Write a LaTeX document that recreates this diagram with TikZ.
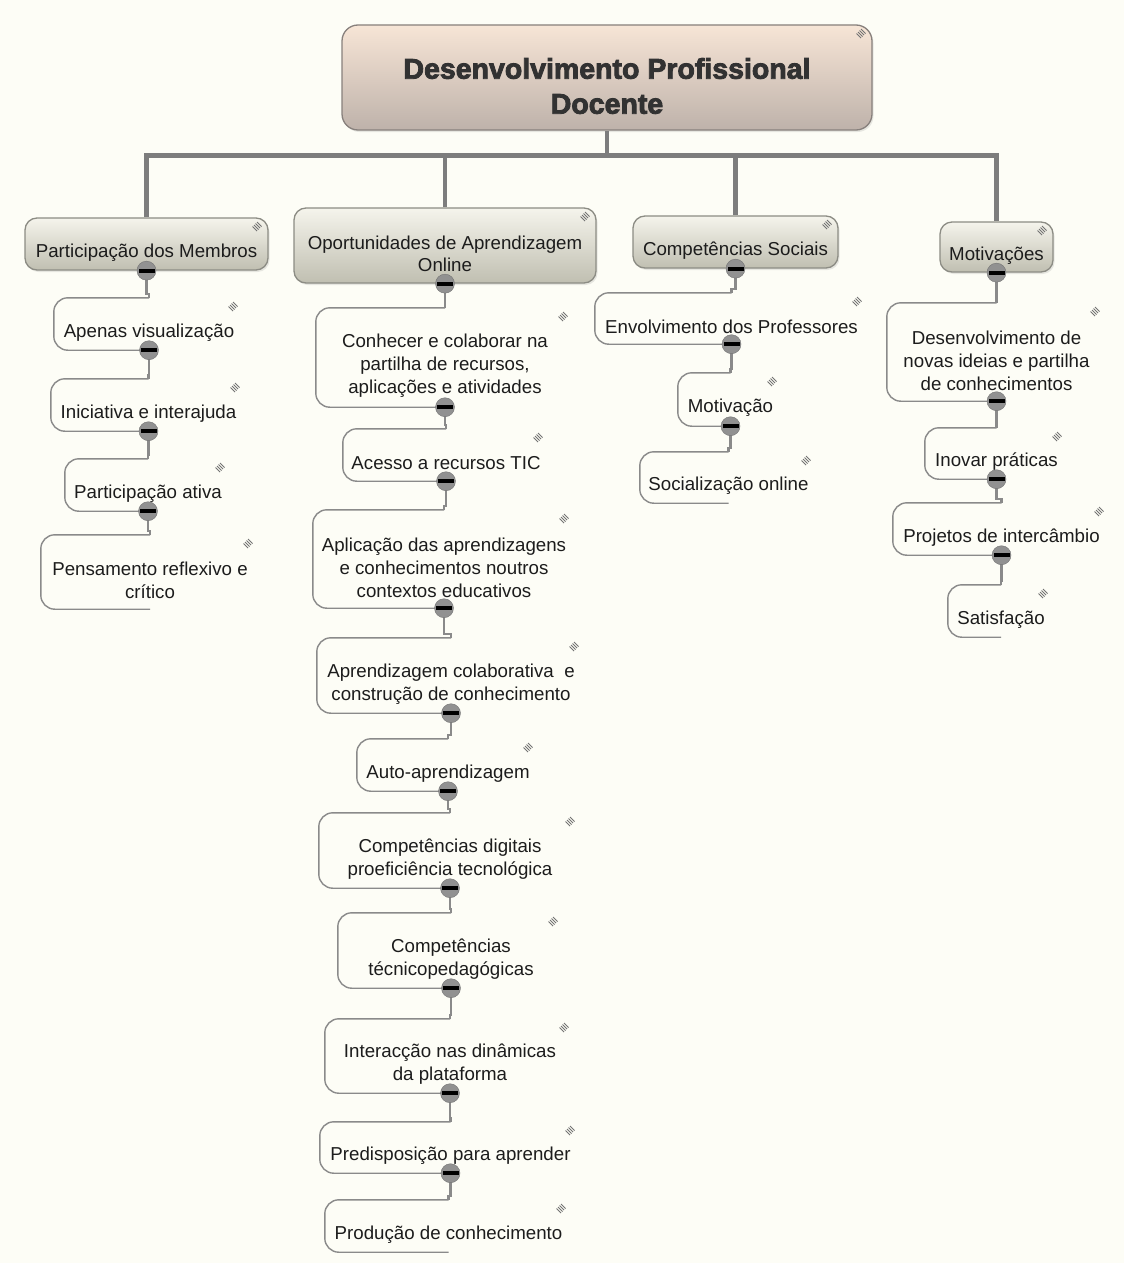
\documentclass[tikz,border=0pt]{standalone}
\usepackage{fontspec}
\setmainfont{Liberation Sans}
\newfontfamily\heavyfont{Liberation Sans Bold}[FakeBold=3]
\usetikzlibrary{calc,shadows}
\definecolor{bgc}{RGB}{253,253,246}
\definecolor{roottop}{RGB}{247,229,214}
\definecolor{rootbot}{RGB}{190,178,170}
\definecolor{rootline}{RGB}{135,128,124}
\definecolor{brtop}{RGB}{245,244,236}
\definecolor{brbot}{RGB}{192,191,177}
\definecolor{brline}{RGB}{140,140,132}
\definecolor{lnc}{RGB}{138,138,138}
\definecolor{mainln}{RGB}{125,125,125}
\definecolor{txt}{RGB}{28,28,28}
\definecolor{roottxt}{RGB}{50,50,50}
\definecolor{knobc}{RGB}{145,145,145}
\pgfdeclarelayer{back}
\pgfsetlayers{back,main}
\tikzset{
 rootbox/.style={draw=rootline, line width=1.3pt, rounded corners=16pt, top color=roottop, bottom color=rootbot,
   drop shadow={opacity=0.18, shadow xshift=1.5pt, shadow yshift=-2pt}},
 brbox/.style={draw=brline, line width=1.3pt, rounded corners=12pt, top color=brtop, bottom color=brbot,
   drop shadow={opacity=0.18, shadow xshift=1.5pt, shadow yshift=-2pt}},
 subbox/.style={},
 roottext/.style={font=\fontsize{28.5}{35}\selectfont\heavyfont, text=roottxt, align=center, inner sep=0pt},
 brtext/.style={font=\fontsize{18.7}{22.5}\selectfont, text=txt, align=center, inner sep=0pt},
 subtext/.style={font=\fontsize{18.7}{23}\selectfont, text=txt, align=center, inner sep=0pt},
 subline/.style={draw=lnc, line width=1.4pt, rounded corners=14pt},
 conn/.style={draw=lnc, line width=2.2pt},
 mainconn/.style={draw=mainln, line width=4.5pt},
 knob/.style={circle, fill=knobc, draw=knobc!80!black, line width=0.4pt, minimum size=19pt, inner sep=0pt},
 hatchln/.style={draw=black!55, line width=0.8pt},
}
\newcommand\hatchmark[2]{%
  \foreach \i in {0,...,3}{\draw[hatchln] ({#1-3.5+1.5*\i},{#2-1.5-1.5*\i}) -- ++(4.5,4.5);}%
}
\newcommand\mmbox[8]{%
  \node[#1, minimum width={#5-#3}, minimum height={#6-#4}, inner sep=0pt] (#2) at ({(#3+#5)/2},{(#4+#6)/2}) {};
  \node[#7] (#2-t) at ($(#2.center)+(0,8.5)$) {#8};
  \hatchmark{#5-12}{#4+10}%
}
\newcommand\subt[6]{%
  \mmbox{subbox}{#1}{#2}{#3}{#4}{#5}{subtext}{#6}
  \draw[subline] (#1.north) -- (#1.north west) -- (#1.south west) -- (#1.south);
}
\newcommand\knobat[1]{%
  \node[knob] (#1-k) at (#1.south) {};
  \fill[black] ($(#1-k)+(-8,-2)$) rectangle ($(#1-k)+(8,2)$);
}
\newcommand\linkto[2]{%
  \begin{pgfonlayer}{back}
  \draw[conn] (#1.south) |- ($(#2.north)+(0,-4)$) -- (#2.north);
  \end{pgfonlayer}
}
\begin{document}
\begin{tikzpicture}[x=1pt,y=-1pt]
\begin{pgfonlayer}{back}
\fill[bgc] (0,0) rectangle (1124,1263);
\end{pgfonlayer}
\useasboundingbox (0,0) rectangle (1124,1263);

% root and branches
\mmbox{rootbox}{root}{342}{25}{872}{130}{roottext}{Desenvolvimento Profissional\\Docente}
\mmbox{brbox}{b1}{25}{218}{268}{270}{brtext}{Participação dos Membros}
\mmbox{brbox}{b2}{294}{208}{596}{283}{brtext}{Oportunidades de Aprendizagem\\Online}
\mmbox{brbox}{b3}{633}{216}{838}{268}{brtext}{Competências Sociais}
\mmbox{brbox}{b4}{940}{222}{1053}{272}{brtext}{Motivações}

% column 1
\subt{a1}{54}{298}{244}{350}{Apenas visualização}
\subt{a2}{51}{379}{246}{431}{Iniciativa e interajuda}
\subt{a3}{65}{459}{231}{511}{Participação ativa}
\subt{a4}{41}{535}{259}{609}{Pensamento reflexivo e\\crítico}

% column 2
\subt{o1}{316}{308}{574}{407}{Conhecer e colaborar na\\partilha de recursos,\\aplicações e atividades}
\subt{o2}{343}{429}{549}{481}{Acesso a recursos TIC}
\subt{o3}{313}{510}{575}{608}{Aplicação das aprendizagens\\e conhecimentos noutros\\contextos educativos}
\subt{o4}{317}{638}{585}{713}{Aprendizagem colaborativa\ \ e\\construção de conhecimento}
\subt{o5}{357}{739}{539}{791}{Auto-aprendizagem}
\subt{o6}{319}{813}{581}{888}{Competências digitais\\proeficiência tecnológica}
\subt{o7}{338}{913}{564}{988}{Competências\\técnicopedagógicas}
\subt{o8}{325}{1019}{575}{1093}{Interacção nas dinâmicas\\da plataforma}
\subt{o9}{320}{1122}{581}{1173}{Predisposição para aprender}
\subt{o10}{325}{1200}{572}{1252}{Produção de conhecimento}

% column 3
\subt{c1}{595}{293}{868}{344}{Envolvimento dos Professores}
\subt{c2}{678}{373}{783}{426}{Motivação}
\subt{c3}{640}{452}{817}{503}{Socialização online}

% column 4
\subt{m1}{887}{303}{1106}{401}{Desenvolvimento de\\novas ideias e partilha\\de conhecimentos}
\subt{m2}{925}{428}{1068}{479}{Inovar práticas}
\subt{m3}{893}{503}{1110}{555}{Projetos de intercâmbio}
\subt{m4}{948}{585}{1054}{637}{Satisfação}

% main connectors
\coordinate (hub) at ($(root.south)+(0,25)$);
\begin{pgfonlayer}{back}
\draw[mainconn] (root.south) -- (hub);
\draw[mainconn] (b1.north) |- (hub) -| (b4.north);
\draw[mainconn] (b2.north) -- (b2.north |- hub);
\draw[mainconn] (b3.north) -- (b3.north |- hub);
\end{pgfonlayer}

% sub connectors
\linkto{b1}{a1}\linkto{a1}{a2}\linkto{a2}{a3}\linkto{a3}{a4}
\linkto{b2}{o1}\linkto{o1}{o2}\linkto{o2}{o3}\linkto{o3}{o4}\linkto{o4}{o5}
\linkto{o5}{o6}\linkto{o6}{o7}\linkto{o7}{o8}\linkto{o8}{o9}\linkto{o9}{o10}
\linkto{b3}{c1}\linkto{c1}{c2}\linkto{c2}{c3}
\linkto{b4}{m1}\linkto{m1}{m2}\linkto{m2}{m3}\linkto{m3}{m4}

% collapse knobs
\knobat{b1}\knobat{b2}\knobat{b3}\knobat{b4}
\knobat{a1}\knobat{a2}\knobat{a3}
\knobat{o1}\knobat{o2}\knobat{o3}\knobat{o4}\knobat{o5}\knobat{o6}\knobat{o7}\knobat{o8}\knobat{o9}
\knobat{c1}\knobat{c2}
\knobat{m1}\knobat{m2}\knobat{m3}
\end{tikzpicture}
\end{document}
